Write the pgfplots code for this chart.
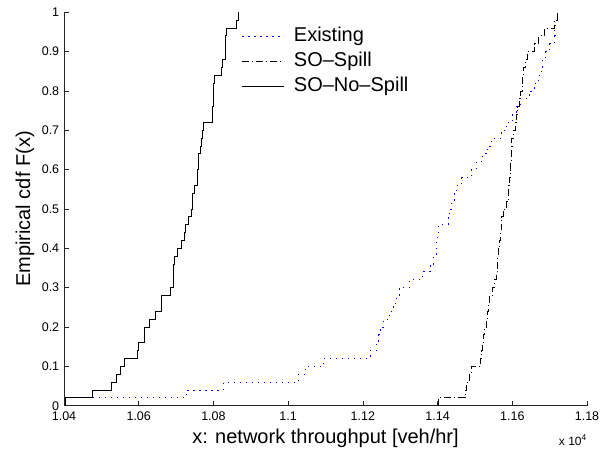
\documentclass[border=0pt]{standalone}
\usepackage{fontspec}
\setmainfont{Liberation Sans}
\usepackage{pgfplots}
\usepackage{pgfplotstable}
\pgfplotsset{compat=1.18}

\pgfplotstableread{
x y
1.0403 0.00
1.0403 0.02
1.0729 0.04
1.0826 0.06
1.1027 0.08
1.1047 0.10
1.1095 0.12
1.1219 0.14
1.1236 0.16
1.1243 0.18
1.1246 0.20
1.1255 0.22
1.1272 0.24
1.1281 0.26
1.1290 0.28
1.1297 0.30
1.1325 0.32
1.1360 0.34
1.1380 0.36
1.1390 0.38
1.1396 0.40
1.1398 0.42
1.1400 0.44
1.1402 0.46
1.1428 0.48
1.1433 0.50
1.1437 0.52
1.1444 0.54
1.1450 0.56
1.1465 0.58
1.1490 0.60
1.1504 0.62
1.1521 0.64
1.1533 0.66
1.1545 0.68
1.1570 0.70
1.1585 0.72
1.1600 0.74
1.1610 0.76
1.1621 0.78
1.1645 0.80
1.1658 0.82
1.1670 0.84
1.1678 0.86
1.1682 0.88
1.1690 0.90
1.1700 0.92
1.1713 0.94
1.1714 0.96
1.1715 0.98
1.1720 1.00
}\existing

\pgfplotstableread{
x y
1.1402 0.00
1.1402 0.02
1.1474 0.04
1.1477 0.06
1.1485 0.08
1.1490 0.10
1.1514 0.12
1.1518 0.14
1.1520 0.16
1.1522 0.18
1.1526 0.20
1.1530 0.22
1.1533 0.24
1.1536 0.26
1.1539 0.28
1.1547 0.30
1.1552 0.32
1.1557 0.34
1.1560 0.36
1.1561 0.38
1.1562 0.40
1.1565 0.42
1.1568 0.44
1.1570 0.46
1.1572 0.48
1.1575 0.50
1.1585 0.52
1.1589 0.54
1.1590 0.56
1.1593 0.58
1.1595 0.60
1.1596 0.62
1.1597 0.64
1.1598 0.66
1.1599 0.68
1.1603 0.70
1.1609 0.72
1.1612 0.74
1.1615 0.76
1.1618 0.78
1.1623 0.80
1.1626 0.82
1.1628 0.84
1.1630 0.86
1.1635 0.88
1.1640 0.90
1.1660 0.92
1.1670 0.94
1.1687 0.96
1.1714 0.98
1.1720 1.00
}\sospill

\pgfplotstableread{
x y
1.0403 0.00
1.0403 0.02
1.0477 0.04
1.0526 0.06
1.0541 0.08
1.0550 0.10
1.0562 0.12
1.0597 0.14
1.0598 0.16
1.0615 0.18
1.0616 0.20
1.0629 0.22
1.0645 0.24
1.0660 0.26
1.0661 0.28
1.0685 0.30
1.0692 0.32
1.0693 0.34
1.0694 0.36
1.0695 0.38
1.0705 0.40
1.0715 0.42
1.0723 0.44
1.0724 0.46
1.0733 0.48
1.0742 0.50
1.0743 0.52
1.0744 0.54
1.0750 0.56
1.0757 0.58
1.0758 0.60
1.0759 0.62
1.0760 0.64
1.0766 0.66
1.0767 0.68
1.0771 0.70
1.0772 0.72
1.0797 0.74
1.0798 0.76
1.0799 0.78
1.0800 0.80
1.0801 0.82
1.0802 0.84
1.0822 0.86
1.0823 0.88
1.0831 0.90
1.0832 0.92
1.0833 0.94
1.0834 0.96
1.0861 0.98
1.0867 1.00
}\sonospill

\begin{document}
\begin{tikzpicture}
\begin{axis}[
  name=ax,
  width=523bp, height=393.4bp, scale only axis,
  xmin=1.04, xmax=1.18, ymin=0, ymax=1,
  axis lines*=left,
  axis line style={line width=0.7bp, black!85},
  tick align=inside,
  major tick length=5bp,
  tick style={line width=0.7bp, black!85},
  xtick={1.04,1.06,1.08,1.10,1.12,1.14,1.16,1.18},
  ytick={0,0.1,0.2,0.3,0.4,0.5,0.6,0.7,0.8,0.9,1},
  /pgf/number format/assume math mode=true,
  xticklabel style={/pgf/number format/.cd, fixed, precision=2, /tikz/.cd, yshift=-3bp},
  yticklabel style={/pgf/number format/.cd, fixed, precision=1, /tikz/.cd, xshift=-1.3bp},
  tick label style={font=\fontsize{12.5bp}{14bp}\selectfont},
  xlabel={x: network throughput [veh/hr]},
  ylabel={Empirical cdf F(x)},
  every axis x label/.style={at={(axis description cs:0.5,-0.0973)}, anchor=base, font=\fontsize{20bp}{24bp}\selectfont},
  every axis y label/.style={at={(axis description cs:-0.0746,0.5)}, anchor=center, rotate=90, font=\fontsize{20bp}{24bp}\selectfont},
  legend style={draw=none, fill=none, at={(axis description cs:0.340,0.966)}, anchor=north west,
    font=\fontsize{20bp}{24bp}\selectfont, inner sep=0bp, row sep=3bp, column sep=8bp,
    nodes={inner sep=1bp, text height=15bp, text depth=5bp}},
  legend cell align=left,
  legend image code/.code={\draw[#1] (0bp,0bp) -- (42bp,0bp);},
  clip=false,
]
\addplot[const plot, color=blue, line width=0.9bp, dash pattern=on 1.2bp off 4.8bp] table {\existing};
\addlegendentry{Existing}
\addplot[const plot, color=black, line width=0.9bp, dash pattern=on 7bp off 3bp on 1bp off 3bp] table {\sospill};
\addlegendentry{SO–Spill}
\addplot[const plot, color=black, line width=0.9bp] table {\sonospill};
\addlegendentry{SO–No–Spill}
\node[anchor=base east, font=\fontsize{12bp}{14bp}\selectfont, inner sep=0pt] at (rel axis cs:1,0) [yshift=-39.5bp] {x 10\textsuperscript{4}};
\end{axis}
\path ([shift={(-64bp,-49.3bp)}]ax.south west) rectangle ([shift={(27bp,12.3bp)}]ax.north east);
\end{tikzpicture}
\end{document}
